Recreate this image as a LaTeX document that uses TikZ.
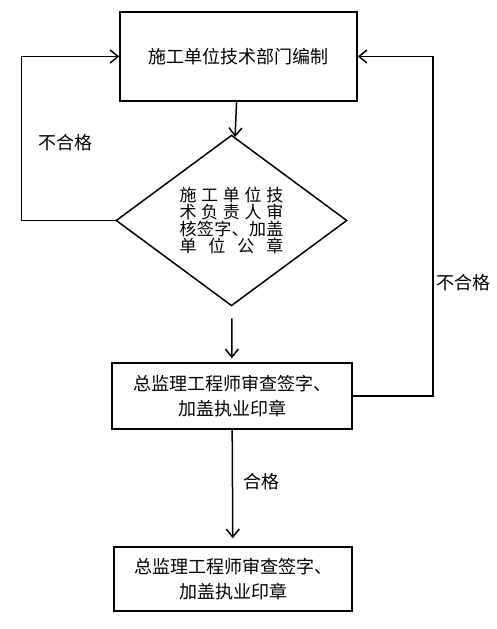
\documentclass[tikz,border=0pt]{standalone}
\usepackage{fontspec}
\setmainfont{Noto Sans CJK SC}
\usetikzlibrary{positioning, arrows.meta, shapes.geometric}

\newcommand\spreadline[1]{\makebox[104pt][s]{#1}}

\begin{document}
\begin{tikzpicture}[
      x=1pt, y=-1pt,
      box/.style={
        draw,
        line width=1.5pt,
        inner sep=0pt,
        align=center,
        font=\fontsize{18pt}{25pt}\selectfont
      },
      check/.style={
        draw,
        diamond,
        line width=1.5pt,
        inner sep=0pt,
        minimum width=231pt,
        minimum height=145pt,
        align=center,
        font=\fontsize{17pt}{17pt}\selectfont
      },
      lbl/.style={
        font=\fontsize{18pt}{22pt}\selectfont
      },
      arrow/.style={
        -{Straight Barb[length=8pt,width=13pt]},
        line width=1.5pt
      }
    ]
    \useasboundingbox (0,0) rectangle (496,629);

    \node[box, minimum width=237pt, minimum height=89pt] (draft) at (238.5,56.5) {施工单位技术部门编制};

    \node[check] (review) at (231.5,220.5) {
      \spreadline{施\hfil 工\hfil 单\hfil 位\hfil 技}\\
      \spreadline{术\hfil 负\hfil 责\hfil 人\hfil 审}\\
      \spreadline{核\hfil 签\hfil 字\hfil 、\hfil 加\hfil 盖}\\
      \spreadline{单\hfil 位\hfil 公\hfil 章}
    };

    \node[box, minimum width=240pt, minimum height=66pt] (chief) at (232,396) {
      总监理工程师审查签字、\\
      加盖执业印章
    };

    \node[box, minimum width=238pt, minimum height=64pt] (final) at (233,579) {
      总监理工程师审查签字、\\
      加盖执业印章
    };

    \draw[arrow] (draft) -- (review);
    \draw[arrow, shorten <=12pt, shorten >=4pt] (review) -- (chief);
    \draw[arrow, shorten >=8pt] (chief) -- (final);

    % 不合格 loops
    \draw[arrow] (review.west) -- ++(-94,0) |- (draft.west);
    \draw[arrow] (chief.east) -- ++(80,0) |- (draft.east);

    \node[lbl] (failleft) at (65,143) {不合格};
    \node[lbl] (failright) at (463,283) {不合格};
    \node[lbl] (pass) at (261,482) {合格};

    \end{tikzpicture}
\end{document}
